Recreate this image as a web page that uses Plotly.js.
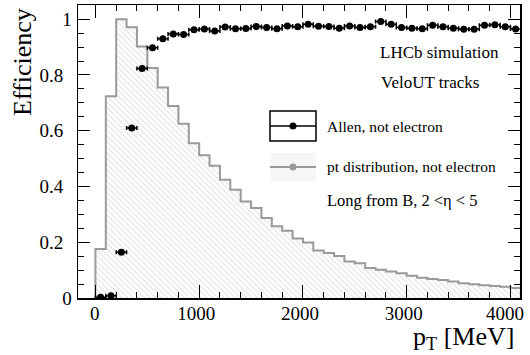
<!DOCTYPE html>
<html>
<head>
<meta charset="utf-8">
<script src="https://cdn.plot.ly/plotly-3.0.1.min.js"></script>
<style>html,body{margin:0;padding:0;background:#fff;}#chart{width:530px;height:355px;}</style>
</head>
<body>
<div id="chart"></div>
<script>
// bin centres of pT [MeV], bin width 100
const ptCenters = [50,150,250,350,450,550,650,750,850,950,
  1050,1150,1250,1350,1450,1550,1650,1750,1850,1950,
  2050,2150,2250,2350,2450,2550,2650,2750,2850,2950,
  3050,3150,3250,3350,3450,3550,3650,3750,3850,3950,4050];
const binHalfWidth = 50;
// Allen efficiency, not electron
const efficiency = [0.003,0.008,0.164,0.610,0.823,0.898,0.930,0.947,0.945,0.962,
  0.965,0.958,0.972,0.966,0.967,0.974,0.970,0.966,0.976,0.973,
  0.982,0.975,0.974,0.968,0.976,0.970,0.973,0.992,0.982,0.970,
  0.968,0.966,0.978,0.973,0.968,0.964,0.964,0.978,0.980,0.973,0.965];
// normalised pt distribution, not electron
const ptDistribution = [0.176,0.724,1.000,0.971,0.902,0.825,0.755,0.689,0.625,0.555,
  0.512,0.474,0.424,0.388,0.346,0.323,0.287,0.257,0.241,0.213,
  0.199,0.170,0.161,0.151,0.131,0.125,0.108,0.101,0.095,0.089,
  0.080,0.073,0.068,0.065,0.059,0.053,0.049,0.046,0.043,0.040,0.036];
// tick labels
const xTickVals = [0,1000,2000,3000,4000];
const xTickText = ['\u20080','1000','2000','3000','4000\u2008'];
const yTickVals = [0,0.2,0.4,0.6,0.8,1];
const yTickText = ['0','0.2\u2008\u2009','0.4\u2008\u2009','0.6\u2008\u2009','0.8\u2008\u2009','1'];

// build step outline (bin edges) for the histogram
const hx = [ptCenters[0]-binHalfWidth], hy = [0];
ptCenters.forEach((c,i)=>{ hx.push(c-binHalfWidth); hy.push(ptDistribution[i]); });
const lastEdge = ptCenters[ptCenters.length-1]+binHalfWidth;
hx.push(lastEdge); hy.push(ptDistribution[ptDistribution.length-1]);
hx.push(lastEdge); hy.push(0);

const serif = '"Liberation Serif", "Times New Roman", Times, serif';
const traces = [
  {x: hx, y: hy, type:'scatter', mode:'lines', line:{shape:'hv', color:'#9a9a9a', width:2},
   fill:'tozeroy', fillcolor:'rgba(0,0,0,0)',
   fillpattern:{shape:'\\', fgcolor:'#e4e4e4', bgcolor:'#ffffff', size:4, solidity:0.3},
   hoverinfo:'skip', showlegend:false},
  {x: ptCenters, y: efficiency, type:'scatter', mode:'markers',
   marker:{color:'#000', size:7},
   error_x:{type:'constant', value:binHalfWidth, color:'#000', thickness:1.5, width:2},
   showlegend:false}
];

const ann = (x,y,text,size,anchor)=>({xref:'paper',yref:'paper',x:x,y:y,text:text,showarrow:false,
  xanchor:anchor||'left',yanchor:'middle',font:{family:serif,size:size,color:'#000'}});
// paper coordinate helpers (plot area: x 78..520, y 5..298)
const px = v => (v-78)/(520-78);
const py = v => (298-v)/(298-5);

const layout = {
  width:530, height:355,
  margin:{l:78, r:10, t:5, b:57, pad:0},
  paper_bgcolor:'#fff', plot_bgcolor:'#fff',
  showlegend:false,
  font:{family:serif, color:'#000'},
  xaxis:{range:[-168,4092], showline:true, linecolor:'#000', linewidth:1.5, mirror:'ticks',
    ticks:'inside', ticklen:13, tickwidth:1, tickcolor:'#000',
    tickmode:'array', tickvals:xTickVals, ticktext:xTickText, ticklabeloverflow:'allow',
    ticklabelshift:-3,
    minor:{ticks:'inside', ticklen:6, dtick:200, tick0:0, tickcolor:'#000', tickwidth:1},
    showgrid:false, zeroline:false, ticklabelstandoff:-2,
    tickfont:{family:serif, size:19, color:'#000'}},
  yaxis:{range:[0,1.051], showline:true, linecolor:'#000', linewidth:1.5, mirror:'ticks',
    ticks:'inside', ticklen:12, tickwidth:1, tickcolor:'#000',
    tickmode:'array', tickvals:yTickVals, ticktext:yTickText,
    minor:{ticks:'inside', ticklen:6, dtick:0.05, tick0:0, tickcolor:'#000', tickwidth:1},
    showgrid:false, zeroline:false, ticklabelstandoff:1,
    tickfont:{family:serif, size:19, color:'#000'}},
  annotations:[
    Object.assign(ann((22-78)/442, py(62), 'Efficiency', 26, 'center'),{textangle:-90}),
    ann(px(516), py(338), 'p<sub>T</sub> [MeV]', 26, 'right'),
    ann(px(378), py(52), 'LHCb simulation', 17),
    ann(px(379), py(82), 'VeloUT tracks', 17),
    ann(px(325), py(126), 'Allen, not electron', 15.5),
    ann(px(325), py(166), 'pt distribution, not electron', 15.5),
    ann(px(325), py(200), 'Long from B, 2 &lt;η &lt; 5', 16.5)
  ],
  shapes:[
    {type:'rect', xref:'paper', yref:'paper', x0:px(270), x1:px(316), y0:py(111), y1:py(141), line:{color:'#000', width:1.5}, fillcolor:'rgba(0,0,0,0)'},
    {type:'line', xref:'paper', yref:'paper', x0:px(270), x1:px(316), y0:py(126), y1:py(126), line:{color:'#000', width:1.5}},
    {type:'circle', xref:'paper', yref:'paper', x0:px(289.5), x1:px(296.5), y0:py(122.5), y1:py(129.5), line:{color:'#000', width:0}, fillcolor:'#000'},
    {type:'rect', xref:'paper', yref:'paper', x0:px(270), x1:px(316), y0:py(153), y1:py(182), line:{width:0}, fillcolor:'#f6f6f6'},
    {type:'line', xref:'paper', yref:'paper', x0:px(270), x1:px(316), y0:py(167), y1:py(167), line:{color:'#9a9a9a', width:2}},
    {type:'circle', xref:'paper', yref:'paper', x0:px(289.5), x1:px(296.5), y0:py(163.5), y1:py(170.5), line:{width:0}, fillcolor:'#9a9a9a'}
  ]
};
Plotly.newPlot('chart', traces, layout, {staticPlot:true, displayModeBar:false});
</script>
</body>
</html>
